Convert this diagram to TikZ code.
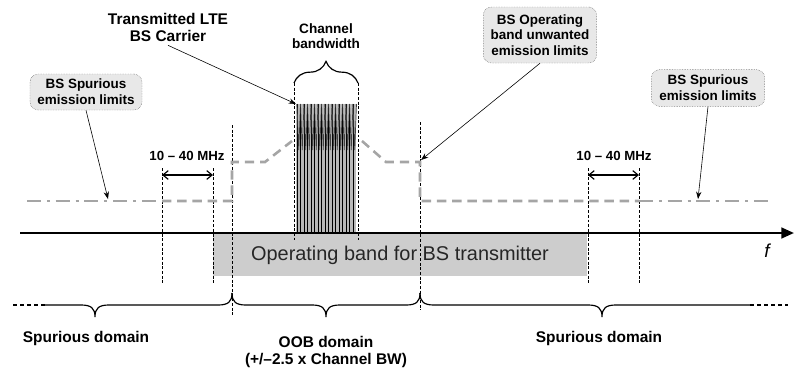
\documentclass[tikz,border=0pt]{standalone}
\usepackage{fontspec}
\setmainfont{Liberation Sans}
\usepackage{tikz}
\usetikzlibrary{arrows.meta,positioning,decorations.pathreplacing}
\definecolor{limgray}{RGB}{165,165,165}
\definecolor{bandgray}{RGB}{205,205,205}
\definecolor{boxgray}{RGB}{232,232,232}

\begin{document}
\begin{tikzpicture}[x=0.3mm, y=-0.3mm,
  note/.style={draw=black!70, densely dotted, fill=boxgray, rounded corners=7pt, align=center, inner sep=1pt, font=\fontsize{11.5}{13.5}\selectfont\bfseries},
  guide/.style={black, line width=0.5pt, dash pattern=on 2.5pt off 1.5pt},
  limit/.style={limgray, line width=2.2pt, dash pattern=on 8pt off 5pt},
  limitdd/.style={limgray, line width=2.2pt, dash pattern=on 12pt off 5pt on 2.5pt off 5pt},
  pointer/.style={-{Stealth[length=2.2mm,width=1.6mm]}, line width=0.5pt},
  span/.style={{Straight Barb[length=1.6mm,width=2.6mm]}-{Straight Barb[length=1.6mm,width=2.6mm]}, line width=1pt},
  domtext/.style={align=center, font=\fontsize{13.2}{14.5}\selectfont\bfseries},
  mhz/.style={font=\fontsize{11.3}{13}\selectfont\bfseries}
]
  \useasboundingbox (0,0) rectangle (801,379);

  % operating band
  \fill[bandgray] (213,233) rectangle (587,276);
  \node[font=\fontsize{17}{19}\selectfont, text=black!85] (band) at (400,255) {Operating band for BS transmitter};

  % LTE carrier
  \fill[gray!55] (296,104) rectangle (356,233);
  \foreach \i in {0,...,16} {
    \draw[line width=0.4pt] (297+\i*3.5,233) -- (297+\i*3.5,104);
    \draw[black!75, line width=0.6pt] (297+\i*3.5,104) -- (298.75+\i*3.5,150) -- (300.5+\i*3.5,104);
  }

  % guides
  \draw[guide] (162,168) -- (162,285);
  \draw[guide] (213,168) -- (213,285);
  \draw[guide] (232,125) -- (232,315);
  \draw[guide] (294,83) -- (294,240);
  \draw[guide] (358,83) -- (358,240);
  \draw[guide] (420,122) -- (420,310);
  \draw[guide] (588,168) -- (588,285);
  \draw[guide] (639,168) -- (639,285);

  % emission limits
  \draw[limitdd] (27,201) -- (162,201);
  \draw[limit] (162,201) -- (232,201) -- (232,162) -- (265,162) -- (292,141);
  \draw[limit] (362,141) -- (386,162) -- (420,162) -- (420,201) -- (639,201);
  \draw[limitdd] (639,201) -- (768,201);

  % frequency axis
  \coordinate (ax0) at (20,233);
  \coordinate (ax1) at (794,233);
  \draw[line width=2.1pt, -{Triangle[length=3.8mm,width=3.2mm]}] (ax0) -- (ax1);
  \node[font=\fontsize{16}{18}\selectfont\itshape] (f) at (767,251) {f};

  % 10 - 40 MHz
  \coordinate (m1a) at (162,175);
  \coordinate (m1b) at (213,175);
  \coordinate (m2a) at (588,175);
  \coordinate (m2b) at (639,175);
  \draw[span] (m1a) -- (m1b);
  \draw[span] (m2a) -- (m2b);
  \node[mhz] (mhzL) at (187,156) {10 -- 40 MHz};
  \node[mhz] (mhzR) at (614,156) {10 -- 40 MHz};

  % callouts
  \node[domtext] (tx) at (168,27) {Transmitted LTE\\BS Carrier};
  \coordinate (carr) at (296,104);
  \draw[pointer] (tx.south) -- (carr);

  \node[align=center, font=\fontsize{11.6}{13}\selectfont\bfseries] (cbw) at (326,36) {Channel\\bandwidth};
  \draw[line width=1pt, decorate, decoration={brace, amplitude=6.5mm}] (294,83) -- (358,83);

  \node[note, minimum width=33.6mm, minimum height=10.8mm] (spurL) at (86,92) {BS Spurious\\emission limits};
  \node[note, minimum width=34mm, minimum height=16.8mm] (obue) at (540,35) {BS Operating\\band unwanted\\emission limits};
  \node[note, minimum width=34mm, minimum height=11mm] (spurR) at (708,88) {BS Spurious\\emission limits};
  \coordinate (limL) at (108,199);
  \coordinate (limM) at (421,160);
  \coordinate (limR) at (698,199);
  \draw[pointer] (spurL.south) -- (limL);
  \draw[pointer] (obue.south) -- (limM);
  \draw[pointer] (spurR.south) -- (limR);

  % domains
  \draw[line width=1pt, dashed] (13,305) -- (45,305);
  \draw[line width=1pt] (45,305) -- (81,305) .. controls (91,305) and (95,308) .. (95,317)
    .. controls (95,308) and (99,305) .. (109,305) -- (218,305)
    .. controls (228,305) and (232,302) .. (232,293);
  \draw[line width=1pt] (232,293) .. controls (232,302) and (236,305) .. (246,305) -- (312,305)
    .. controls (322,305) and (326,308) .. (326,317)
    .. controls (326,308) and (330,305) .. (340,305) -- (406,305)
    .. controls (416,305) and (420,302) .. (420,293);
  \draw[line width=1pt] (420,293) .. controls (420,302) and (424,305) .. (434,305) -- (588,305)
    .. controls (598,305) and (602,308) .. (602,317)
    .. controls (602,308) and (606,305) .. (616,305) -- (750,305);
  \draw[line width=1pt, dashed] (750,305) -- (788,305);

  \node[domtext] (spdL) at (86,338) {Spurious domain};
  \node[domtext] (oobd) at (326,352) {OOB domain\\(+/--2.5 x Channel BW)};
  \node[domtext] (spdR) at (599,338) {Spurious domain};
\end{tikzpicture}
\end{document}
